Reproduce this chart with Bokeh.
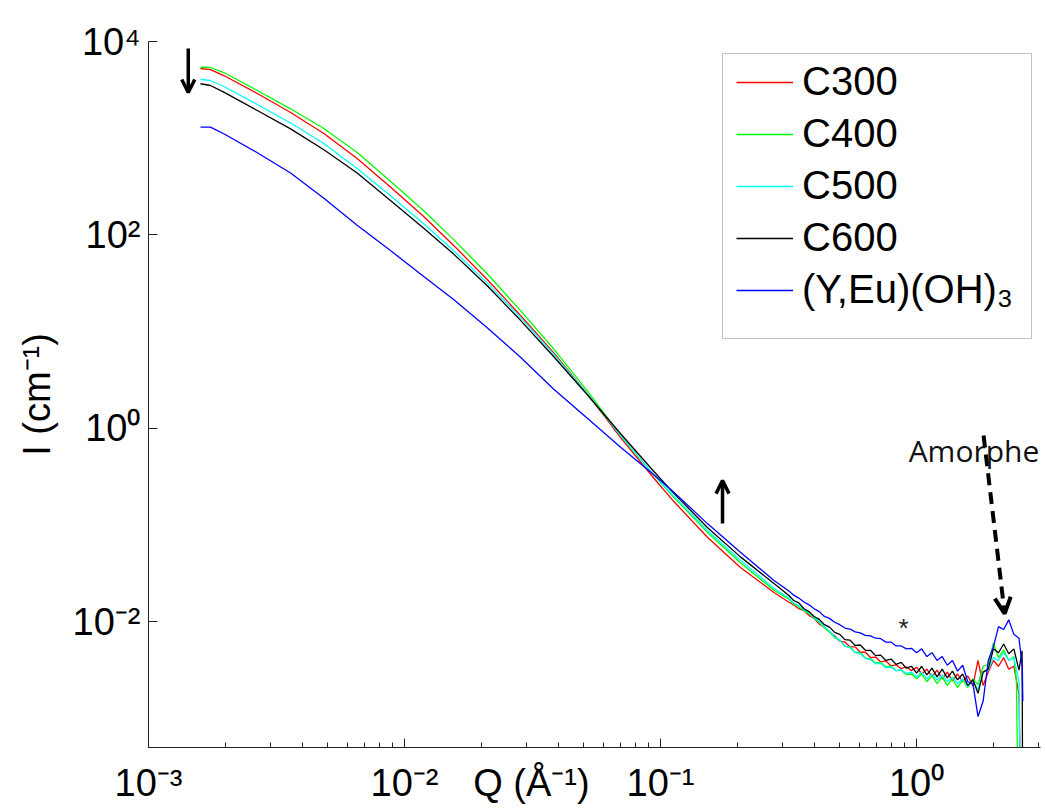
import numpy as np
from bokeh.plotting import figure
from bokeh.models import (Range1d, FixedTicker, Label, Arrow, OpenHead, Legend, LegendItem,
                          BoxAnnotation, CustomJSTickFormatter, LogAxis)
from bokeh.embed import file_html
from bokeh.resources import INLINE

# ---------------- data (log10 values) ----------------
series_names = ["C300", "C400", "C500", "C600", "(Y,Eu)(OH)\u2083"]
series_colors = ["#ff0000", "#00ff00", "#00ffff", "#000000", "#0000ff"]

q_low_log = [-2.797, -2.758, -2.706, -2.575, -2.445, -2.315, -2.185, -2.055, -1.925, -1.807,
             -1.677, -1.547, -1.417, -1.286, -1.156, -1.026, -0.948, -0.817, -0.688, -0.557]
q_high_log = [-0.50, -0.48, -0.46, -0.44, -0.42, -0.40, -0.38, -0.36, -0.34, -0.32,
              -0.30, -0.28, -0.26, -0.24, -0.22, -0.20, -0.18, -0.16, -0.14, -0.12,
              -0.10, -0.08, -0.06, -0.04, -0.02, 0.00, 0.02, 0.04, 0.06, 0.08,
              0.10, 0.12, 0.14, 0.16, 0.18, 0.20, 0.22, 0.24, 0.26, 0.28,
              0.30, 0.32, 0.34, 0.36, 0.38, 0.40]

c300_low = [3.721, 3.710, 3.648, 3.462, 3.266, 3.049, 2.790, 2.496, 2.190, 1.889,
            1.539, 1.167, 0.780, 0.357, -0.096, -0.516, -0.757, -1.126, -1.439, -1.697]
c300_high = [-1.795, -1.825, -1.865, -1.885, -1.935, -1.965, -2.025, -2.055, -2.105, -2.145,
             -2.200, -2.210, -2.260, -2.260, -2.315, -2.315, -2.370, -2.365, -2.415, -2.405,
             -2.455, -2.445, -2.485, -2.465, -2.505, -2.47, -2.54, -2.49, -2.57, -2.50,
             -2.59, -2.52, -2.61, -2.54, -2.62, -2.56, -2.66, -2.40, -2.66, -2.52,
             -2.40, -2.46, -2.37, -2.49, -2.46, -2.75]
c300_tail_q = [0.405]
c300_tail = [-3.6]

c400_low = [3.734, 3.731, 3.679, 3.493, 3.304, 3.100, 2.852, 2.556, 2.250, 1.949,
            1.599, 1.217, 0.820, 0.387, -0.076, -0.486, -0.712, -1.076, -1.389, -1.674]
c400_high = [-1.765, -1.815, -1.845, -1.885, -1.915, -1.965, -2.005, -2.065, -2.105, -2.165,
             -2.190, -2.255, -2.260, -2.315, -2.320, -2.375, -2.380, -2.425, -2.420, -2.465,
             -2.460, -2.505, -2.500, -2.545, -2.540, -2.59, -2.54, -2.62, -2.56, -2.64,
             -2.57, -2.66, -2.59, -2.68, -2.60, -2.68, -2.59, -2.65, -2.46, -2.44,
             -2.22, -2.37, -2.29, -2.40, -2.36]
c400_tail_q = [0.39, 0.395]
c400_tail = [-2.62, -3.6]

c500_low = [3.607, 3.597, 3.535, 3.349, 3.157, 2.945, 2.687, 2.406, 2.115, 1.834,
            1.504, 1.147, 0.765, 0.357, -0.076, -0.481, -0.702, -1.056, -1.364, -1.654]
c500_high = [-1.755, -1.805, -1.835, -1.875, -1.905, -1.955, -1.995, -2.055, -2.095, -2.155,
             -2.190, -2.250, -2.270, -2.320, -2.330, -2.380, -2.390, -2.435, -2.430, -2.475,
             -2.470, -2.505, -2.495, -2.535, -2.520, -2.57, -2.52, -2.59, -2.54, -2.60,
             -2.55, -2.62, -2.57, -2.64, -2.59, -2.67, -2.61, -2.70, -2.52, -2.50,
             -2.37, -2.40, -2.32, -2.40, -2.37, -2.62]
c500_tail_q = [0.405]
c500_tail = [-3.6]

c600_low = [3.563, 3.545, 3.476, 3.286, 3.097, 2.880, 2.640, 2.356, 2.070, 1.799,
            1.474, 1.117, 0.740, 0.347, -0.056, -0.446, -0.672, -1.026, -1.329, -1.604]
c600_high = [-1.725, -1.780, -1.805, -1.865, -1.895, -1.945, -1.975, -2.030, -2.055, -2.110,
             -2.130, -2.185, -2.190, -2.245, -2.240, -2.295, -2.295, -2.350, -2.345, -2.400,
             -2.385, -2.440, -2.420, -2.480, -2.460, -2.53, -2.46, -2.55, -2.48, -2.57,
             -2.49, -2.58, -2.51, -2.60, -2.54, -2.66, -2.60, -2.74, -2.52, -2.49,
             -2.28, -2.32, -2.23, -2.33, -2.28, -2.50]
c600_tail_q = [0.412, 0.414]
c600_tail = [-2.30, -3.6]

yeu_low = [3.114, 3.114, 3.046, 2.850, 2.640, 2.380, 2.100, 1.839, 1.570, 1.330,
           1.040, 0.735, 0.405, 0.105, -0.195, -0.480, -0.660, -0.985, -1.280, -1.574]
yeu_high = [-1.680, -1.725, -1.755, -1.795, -1.825, -1.865, -1.895, -1.945, -1.965, -2.005,
            -2.030, -2.065, -2.075, -2.105, -2.115, -2.140, -2.145, -2.170, -2.175, -2.210,
            -2.210, -2.250, -2.250, -2.280, -2.275, -2.32, -2.28, -2.36, -2.32, -2.40,
            -2.36, -2.45, -2.40, -2.51, -2.45, -2.62, -2.64, -2.98, -2.82, -2.40,
            -2.26, -2.05, -2.08, -1.98, -2.13, -2.17]
yeu_tail_q = [0.413, 0.415]
yeu_tail = [-2.47, -2.82]

# tick labels
x_tick_vals = [0.001, 0.01, 0.1, 1]
x_tick_text = ["10\u207b\u00b3", "10\u207b\u00b2", "10\u207b\u00b9", "10\u2070"]
x_title = "Q (\u00c5\u207b\u00b9)"
x_title_at = 0.0313           # position of the x-axis title along the axis (Q units)
y_tick_vals = [10000, 100, 1, 0.01]
y_tick_text = ["10\u2074", "10\u00b2", "10\u2070", "10\u207b\u00b2"]
y_title = "I (cm\u207b\u00b9)"

# annotation anchors (data units)
arrow_down = dict(q=1.43e-3, i_from=8470.0, i_to=2970.0)
arrow_up = dict(q=0.1746, i_from=0.1038, i_to=0.288)
arrow_amorph = dict(q_from=1.827, i_from=0.842, q_to=2.208, i_to=0.01216)
amorphe_pos = (0.931, 0.589)
star_pos = (0.889, 0.0087)

# ---------------- figure ----------------
FONT = "Liberation Sans"
p = figure(x_axis_type="log", y_axis_type="log",
           x_range=Range1d(1e-3, 10 ** 0.484), y_range=Range1d(10 ** -3.3, 1e4),
           frame_width=892, frame_height=706,
           min_border_left=148, min_border_right=3, min_border_top=41, min_border_bottom=58,
           output_backend="svg", toolbar_location=None)
p.outline_line_color = None
p.xgrid.visible = False
p.ygrid.visible = False
p.background_fill_color = "white"
p.border_fill_color = "white"

minor = []
for e in [-3, -2, -1]:
    minor += [k * 10.0 ** e for k in range(2, 10)]
minor += [2.0, 3.0]
p.xaxis.ticker = FixedTicker(ticks=x_tick_vals, minor_ticks=minor)
p.yaxis.ticker = FixedTicker(ticks=y_tick_vals, minor_ticks=[])
for ax in (p.xaxis[0], p.yaxis[0]):
    ax.major_tick_in = 9
    ax.major_tick_out = 0
    ax.minor_tick_in = 5
    ax.minor_tick_out = 0
    ax.axis_line_color = "#222222"
    ax.major_tick_line_color = "#222222"
    ax.minor_tick_line_color = "#222222"
    ax.major_label_text_font = FONT
    ax.major_label_text_color = "black"
p.yaxis.minor_tick_line_color = None

label_code = """
for (let i = 0; i < vals.length; i++) {
  if (Math.abs(Math.log10(tick) - Math.log10(vals[i])) < 1e-6) return labels[i];
}
return '';
"""
# x: marks on the first axis, texts (ticks + title in one row) on a second axis
p.xaxis.formatter = CustomJSTickFormatter(code="return ''")
p.xaxis.major_label_text_font_size = "1px"
p.xaxis.major_label_standoff = 0

lab_axis = LogAxis(ticker=FixedTicker(ticks=x_tick_vals + [x_title_at], minor_ticks=[]),
                   formatter=CustomJSTickFormatter(args=dict(vals=x_tick_vals + [x_title_at],
                                                             labels=x_tick_text + [x_title]),
                                                   code=label_code),
                   axis_line_color=None, major_tick_line_color=None, minor_tick_line_color=None,
                   major_label_standoff=8, major_label_text_font=FONT,
                   major_label_text_font_size="38px", major_label_text_color="black")
p.add_layout(lab_axis, "below")

p.yaxis.formatter = CustomJSTickFormatter(args=dict(vals=y_tick_vals, labels=y_tick_text),
                                          code=label_code)
p.yaxis.major_label_text_font_size = "38px"
p.yaxis.major_label_standoff = 8
p.yaxis.axis_label = y_title
p.yaxis.axis_label_text_font = FONT
p.yaxis.axis_label_text_font_size = "38px"
p.yaxis.axis_label_text_font_style = "normal"
p.yaxis.axis_label_text_color = "black"
p.yaxis.axis_label_standoff = 12

series = [
    (c300_low + c300_high, c300_tail_q, c300_tail),
    (c400_low + c400_high, c400_tail_q, c400_tail),
    (c500_low + c500_high, c500_tail_q, c500_tail),
    (c600_low + c600_high, c600_tail_q, c600_tail),
    (yeu_low + yeu_high, yeu_tail_q, yeu_tail),
]
renderers = []
for (vals, tq, tv), col in zip(series, series_colors):
    nh = len(vals) - len(q_low_log)
    qlog = q_low_log + q_high_log[:nh] + tq
    ilog = vals + tv
    r = p.line(np.power(10.0, qlog), np.power(10.0, ilog), line_color=col, line_width=1.3)
    renderers.append(r)

# legend box + legend
p.add_layout(BoxAnnotation(left=574, right=883, bottom=409, top=694,
                           left_units="screen", right_units="screen",
                           bottom_units="screen", top_units="screen",
                           fill_color="white", fill_alpha=1.0,
                           line_color="#333333", line_width=1))
legend = Legend(items=[LegendItem(label=n, renderers=[r]) for n, r in zip(series_names, renderers)],
                location=(588, 435), padding=8, spacing=7, label_height=44, glyph_height=44,
                glyph_width=57, label_standoff=9, label_text_font=FONT,
                label_text_font_size="40px", label_text_color="black", border_line_color=None,
                background_fill_alpha=0.0, margin=0)
p.add_layout(legend)

# arrows
p.add_layout(Arrow(end=OpenHead(size=13, line_width=3.5, line_color="black"),
                   x_start=arrow_down["q"], y_start=arrow_down["i_from"],
                   x_end=arrow_down["q"], y_end=arrow_down["i_to"],
                   line_width=3.5, line_color="black"))
p.add_layout(Arrow(end=OpenHead(size=13, line_width=3.5, line_color="black"),
                   x_start=arrow_up["q"], y_start=arrow_up["i_from"],
                   x_end=arrow_up["q"], y_end=arrow_up["i_to"],
                   line_width=3.5, line_color="black"))
p.add_layout(Arrow(end=OpenHead(size=16, line_width=4, line_color="black"),
                   x_start=arrow_amorph["q_from"], y_start=arrow_amorph["i_from"],
                   x_end=arrow_amorph["q_to"], y_end=arrow_amorph["i_to"],
                   line_width=4, line_color="black", line_dash="12 7"))

p.add_layout(Label(x=amorphe_pos[0], y=amorphe_pos[1], text="Amorphe",
                   text_align="left", text_baseline="alphabetic",
                   text_font="Open Sans", text_font_size="30px", text_color="#111111"))
p.add_layout(Label(x=star_pos[0], y=star_pos[1], text="*",
                   text_align="center", text_baseline="alphabetic",
                   text_font=FONT, text_font_size="26px", text_color="#222222"))

open("out.html", "w").write(file_html(p, INLINE))
